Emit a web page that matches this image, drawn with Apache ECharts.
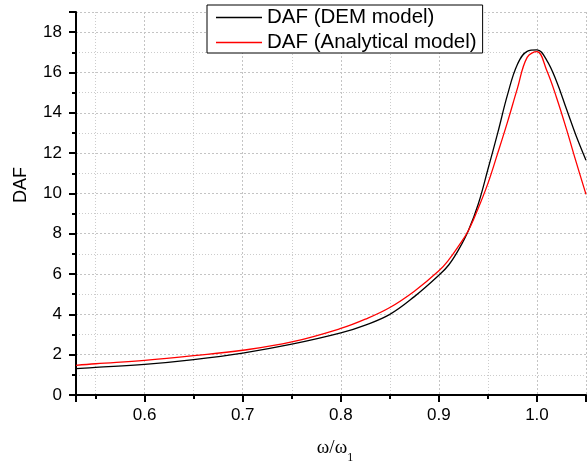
<!DOCTYPE html>
<html>
<head>
<meta charset="utf-8">
<script src="https://cdn.jsdelivr.net/npm/echarts@6/dist/echarts.min.js"></script>
<style>html,body{margin:0;padding:0;background:#fff}#c{width:587px;height:464px}</style>
</head>
<body>
<div id="c"></div>
<script>
// frequency ratio omega/omega1
const xs = [0.53, 0.55, 0.60, 0.65, 0.70, 0.75, 0.80, 0.825, 0.85, 0.875, 0.90, 0.91, 0.92, 0.93, 0.94, 0.95, 0.96, 0.97, 0.98, 0.99, 1.00, 1.01, 1.02, 1.03, 1.04, 1.05];
// DAF from DEM model (black)
const demDAF = [1.31, 1.37, 1.52, 1.76, 2.08, 2.52, 3.08, 3.47, 4.00, 4.88, 5.94, 6.45, 7.20, 8.15, 9.45, 11.20, 13.00, 14.90, 16.40, 17.05, 17.12, 16.60, 15.55, 14.20, 12.85, 11.65];
// DAF from analytical model (red)
const anaDAF = [1.47, 1.55, 1.72, 1.95, 2.22, 2.63, 3.30, 3.76, 4.34, 5.15, 6.16, 6.70, 7.38, 8.15, 9.25, 10.50, 12.00, 13.55, 15.20, 16.75, 17.03, 16.10, 14.75, 13.20, 11.55, 9.95];
const seriesNames = ['DAF (DEM model)', 'DAF (Analytical model)'];
const yTicks = {min: 0, max: 19, interval: 2};
const xRange = {min: 0.53, max: 1.05};

const sans = "'Liberation Sans', Arial, sans-serif";
const serif = "'Liberation Serif', 'Times New Roman', serif";

const chart = echarts.init(document.getElementById('c'), null, {renderer: 'canvas'});
const axisCommon = {
  axisLine: {show: true, onZero: false, lineStyle: {color: '#000', width: 2}},
  axisTick: {show: true, inside: false, length: 7, lineStyle: {color: '#000', width: 2}},
  minorTick: {show: true, splitNumber: 2, length: 4, lineStyle: {color: '#000', width: 2}},
  splitLine: {show: true, lineStyle: {color: '#c4c4c4', width: 1, type: [2, 2]}},
  minorSplitLine: {show: true, lineStyle: {color: '#cccccc', width: 1, type: [1, 2]}},
  axisLabel: {color: '#000', fontSize: 17, fontFamily: sans, showMinLabel: true, showMaxLabel: false}
};
chart.setOption({
  animation: false,
  backgroundColor: '#fff',
  grid: {left: 76, right: 1, top: 12, bottom: 69, containLabel: false, outerBoundsMode: 'none'},
  legend: {
    left: 207, top: 5, orient: 'vertical',
    padding: [2, 6, 0, 9], itemGap: 4, itemWidth: 46, itemHeight: 1.4,
    borderColor: '#000', borderWidth: 1, backgroundColor: '#fff', borderRadius: 0,
    textStyle: {color: '#000', fontSize: 20.5, fontFamily: sans, lineHeight: 21},
    data: seriesNames.map(n => ({name: n, icon: 'rect'}))
  },
  xAxis: Object.assign({}, axisCommon, {
    type: 'value', min: xRange.min, max: xRange.max,
    axisLabel: Object.assign({}, axisCommon.axisLabel, {margin: 12, showMinLabel: false,
      formatter: v => v.toFixed(1)}),
    name: '{a|ω/ω}{b|1}', nameLocation: 'middle', nameGap: 44,
    nameTextStyle: {padding: [0, 0, 0, 8], rich: {
      a: {fontFamily: serif, fontSize: 19, color: '#000'},
      b: {fontFamily: serif, fontSize: 12, color: '#000', verticalAlign: 'bottom', padding: [0, 0, -6, 0]}
    }}
  }),
  yAxis: Object.assign({}, axisCommon, {
    type: 'value', min: yTicks.min, max: yTicks.max, interval: yTicks.interval,
    axisLabel: Object.assign({}, axisCommon.axisLabel, {margin: 14}),
    name: 'DAF', nameLocation: 'middle', nameGap: 46,
    nameTextStyle: {fontFamily: sans, fontSize: 18, color: '#000', padding: [0, 0, 0, 37]}
  }),
  series: [
    {name: seriesNames[0], type: 'line', data: xs.map((x, i) => [x, demDAF[i]]),
     smooth: 0.4, symbol: 'none', lineStyle: {color: '#000', width: 1.3}, itemStyle: {color: '#000'}, z: 2},
    {name: seriesNames[1], type: 'line', data: xs.map((x, i) => [x, anaDAF[i]]),
     smooth: 0.4, symbol: 'none', lineStyle: {color: '#ff0000', width: 1.3}, itemStyle: {color: '#ff0000'}, z: 3}
  ]
});
</script>
</body>
</html>
